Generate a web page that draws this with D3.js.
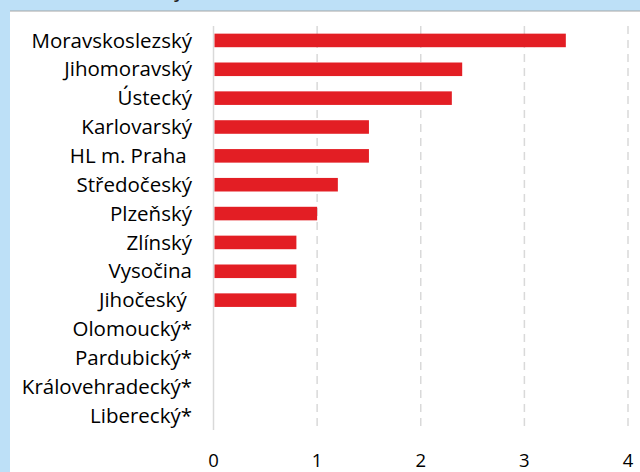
<!DOCTYPE html>
<html>
<head>
<meta charset="utf-8">
<script src="https://cdn.jsdelivr.net/npm/d3@7"></script>
<style>
  html, body { margin: 0; padding: 0; background: #bde0f7; }
  svg { display: block; }
  text { font-family: "Open Sans", Lato, sans-serif; }
</style>
</head>
<body>
<svg id="chart" width="640" height="472"></svg>
<script>
// Regions, top to bottom
const regions = [
  "Moravskoslezský", "Jihomoravský", "Ústecký", "Karlovarský", "HL m. Praha ",
  "Středočeský", "Plzeňský", "Zlínský", "Vysočina", "Jihočeský ",
  "Olomoucký*", "Pardubický*", "Královehradecký*", "Liberecký*"
];
const values = [3.4, 2.4, 2.3, 1.5, 1.5, 1.2, 1.0, 0.8, 0.8, 0.8, 0, 0, 0, 0];
const xTicks = [0, 1, 2, 3, 4];
const titleText = "Nemocnost v krajích (‰)";

const svg = d3.select("#chart");
const W = 640, H = 472;

// background panel
svg.append("rect").attr("x", 0).attr("y", 0).attr("width", W).attr("height", H).attr("fill", "#bde0f7");
svg.append("rect").attr("x", 10).attr("y", 11).attr("width", W - 10).attr("height", H - 11).attr("fill", "#ffffff");
svg.append("line").attr("x1", 10).attr("x2", W).attr("y1", 11).attr("y2", 11)
  .attr("stroke", "#a6a6a6").attr("stroke-width", 1.2);

// title, mostly above the top edge
svg.append("text").attr("x", 10).attr("y", -3).attr("font-size", 21)
  .attr("fill", "#222").text(titleText);

const x = d3.scaleLinear().domain([0, 4]).range([213.5, 628]);
const y = d3.scaleBand().domain(regions).range([26, 430]).paddingInner(0.53).paddingOuter(0.265);

// dashed gridlines
svg.append("g").selectAll("line").data(xTicks.filter(d => d > 0)).join("line")
  .attr("x1", d => x(d)).attr("x2", d => x(d)).attr("y1", 26).attr("y2", 426)
  .attr("stroke", "#d9d9d9").attr("stroke-width", 1.5).attr("stroke-dasharray", "8,6");

// category axis line
svg.append("line").attr("x1", x(0)).attr("x2", x(0)).attr("y1", 26).attr("y2", 430)
  .attr("stroke", "#d9d9d9").attr("stroke-width", 1.5);

// bars
svg.append("g").selectAll("rect").data(regions).join("rect")
  .attr("x", x(0) + 1)
  .attr("y", d => y(d))
  .attr("width", (d, i) => Math.max(0, x(values[i]) - x(0) - 1))
  .attr("height", y.bandwidth())
  .attr("fill", "#e31e24");

// category labels
svg.append("g").selectAll("text").data(regions).join("text")
  .attr("x", 192).attr("y", d => y(d) + y.bandwidth() / 2)
  .attr("dy", "0.35em").attr("text-anchor", "end")
  .attr("font-size", 20.5).attr("fill", "#000")
  .style("white-space", "pre").text(d => d);

// value axis labels
svg.append("g").selectAll("text").data(xTicks).join("text")
  .attr("x", d => x(d)).attr("y", 467)
  .attr("text-anchor", "middle").attr("font-size", 18.5).attr("fill", "#000")
  .text(d => d);
</script>
</body>
</html>
